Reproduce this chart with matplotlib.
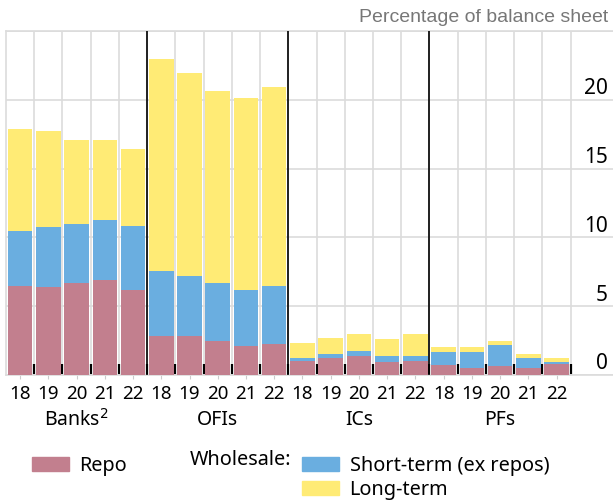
import matplotlib
matplotlib.use("Agg")
import matplotlib.pyplot as plt
import matplotlib.transforms as mtransforms
from matplotlib.patches import Patch
import numpy as np

# values (percentage of balance sheet)
sectors = ["Banks$^{2}$", "OFIs", "ICs", "PFs"]
years = ["18", "19", "20", "21", "22"]

repo = [6.5, 6.4, 6.7, 6.9, 6.2,
        2.85, 2.85, 2.5, 2.1, 2.25,
        1.05, 1.25, 1.35, 0.95, 1.05,
        0.75, 0.5, 0.65, 0.5, 0.8]
short_top = [10.5, 10.75, 11.0, 11.25, 10.8,
             7.55, 7.2, 6.7, 6.2, 6.5,
             1.25, 1.55, 1.75, 1.4, 1.4,
             1.65, 1.7, 2.2, 1.25, 0.95]
total = [17.9, 17.7, 17.1, 17.1, 16.4,
         22.95, 21.95, 20.65, 20.1, 20.9,
         2.35, 2.7, 2.95, 2.65, 2.95,
         2.0, 2.0, 2.5, 1.55, 1.25]

repo = np.array(repo)
short_term = np.array(short_top) - repo
long_term = np.array(total) - np.array(short_top)

c_repo = "#c27f8e"
c_short = "#6aaee0"
c_long = "#ffeb75"

plt.rcParams["font.family"] = ["Noto Sans", "DejaVu Sans"]

fig = plt.figure(figsize=(6.13, 5.03), dpi=100)
ax = fig.add_axes([6 / 613, 128 / 503, 607 / 613, 344 / 503])

n = len(sectors) * len(years)
x = np.arange(n)
w = 0.87
ax.bar(x, repo, w, color=c_repo, zorder=3)
ax.bar(x, short_term, w, bottom=repo, color=c_short, zorder=3)
ax.bar(x, long_term, w, bottom=repo + short_term, color=c_long, zorder=3)

ax.set_xlim(-0.5, 21.0)
ax.set_ylim(0, 25)

# grid
ax.set_yticks([0, 5, 10, 15, 20, 25])
ax.set_yticklabels([])
ax.yaxis.grid(True, color="#dcdcdc", linewidth=1.2, zorder=0)
ax.tick_params(axis="y", length=0)

ax.set_xticks(np.arange(0.5, n, 1), minor=True)
ax.xaxis.grid(True, which="minor", color="#dcdcdc", linewidth=1.2, zorder=0)
ax.tick_params(axis="x", which="minor", direction="in", length=8, width=1.6,
               color="black")
ax.set_xticks(x)
ax.set_xticklabels(years * len(sectors), fontsize=13.5)
ax.tick_params(axis="x", which="major", length=3, color="#cccccc", pad=4)

for s in range(1, len(sectors)):
    ax.axvline(s * len(years) - 0.5, color="black", linewidth=1.2, zorder=4)

for side in ["top", "left", "bottom"]:
    ax.spines[side].set_color("#dcdcdc")
    ax.spines[side].set_linewidth(1.2)
ax.spines["right"].set_visible(False)

# y labels on the right, just above the gridlines
off = mtransforms.ScaledTranslation(0, 0.5 / 72, fig.dpi_scale_trans)
ytr = mtransforms.blended_transform_factory(ax.transAxes, ax.transData) + off
for v in [0, 5, 10, 15, 20]:
    ax.text(0.992, v, str(v), transform=ytr, ha="right", va="bottom", fontsize=15)

# sector labels
gtr = mtransforms.blended_transform_factory(ax.transData, ax.transAxes)
for i, name in enumerate(sectors):
    ax.text(i * len(years) + 2, -0.13, name, transform=gtr, ha="center",
            va="center", fontsize=14)

fig.text(608 / 613, 1 - 17 / 503, "Percentage of balance sheet", ha="right",
         va="center", fontsize=14, color="#777777", family="Liberation Sans")

# legend
fig.legend(handles=[Patch(color=c_repo, label="Repo")],
           loc="upper left", bbox_to_anchor=(22 / 613, 1 - 446 / 503),
           frameon=False, fontsize=14.3, handlelength=1.85,
           handleheight=0.75, handletextpad=0.55, borderpad=0)
fig.text(190 / 613, 1 - 460 / 503, "Wholesale:", ha="left", va="center",
         fontsize=14.3)
fig.legend(handles=[Patch(color=c_short, label="Short-term (ex repos)"),
                    Patch(color=c_long, label="Long-term")],
           loc="upper left", bbox_to_anchor=(292 / 613, 1 - 446 / 503),
           frameon=False, fontsize=14.3, handlelength=1.85, handleheight=0.75,
           handletextpad=0.55, labelspacing=0.2, borderpad=0)

fig.savefig("out.png", dpi=100)
